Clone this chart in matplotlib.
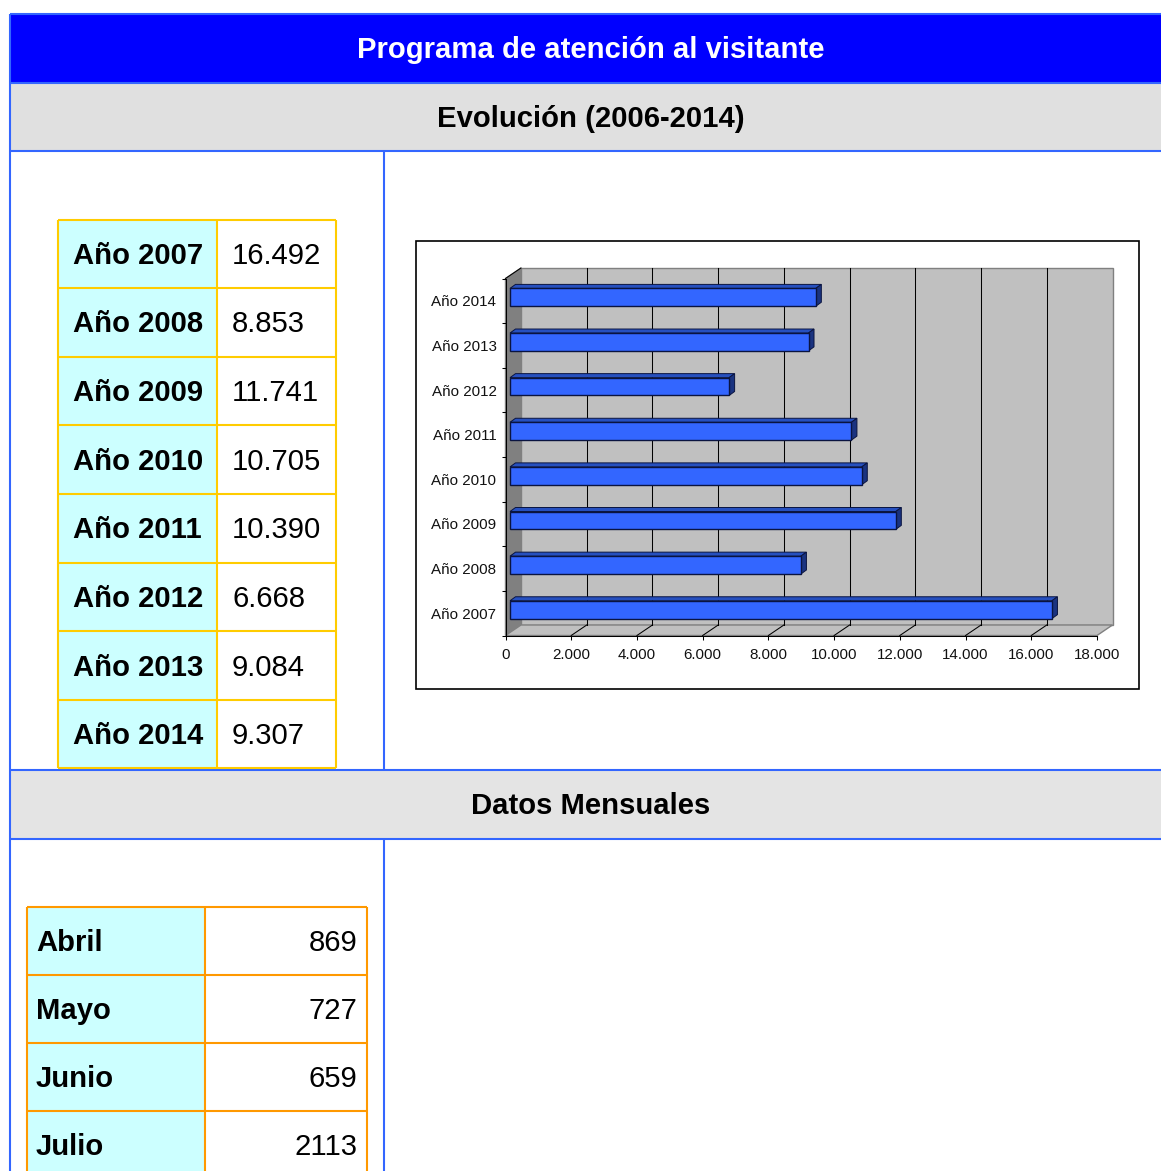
from matplotlib import pyplot as plt
from matplotlib.patches import Polygon, Rectangle

plt.rcParams['font.family'] = ['Liberation Sans', 'DejaVu Sans']

W, H = 1161, 1171

years = ['Año 2007', 'Año 2008', 'Año 2009', 'Año 2010', 'Año 2011', 'Año 2012', 'Año 2013', 'Año 2014']
visitors = [16492, 8853, 11741, 10705, 10390, 6668, 9084, 9307]
visitor_labels = ['16.492', '8.853', '11.741', '10.705', '10.390', '6.668', '9.084', '9.307']
x_ticks = [0, 2000, 4000, 6000, 8000, 10000, 12000, 14000, 16000, 18000]
x_tick_labels = ['0', '2.000', '4.000', '6.000', '8.000', '10.000', '12.000', '14.000', '16.000', '18.000']
months = ['Abril', 'Mayo', 'Junio', 'Julio']
month_values = ['869', '727', '659', '2113']

BLUE_LINE = '#3366ff'
YEAR_LINE = '#ffcc00'
MONTH_LINE = '#ff9900'
CYAN = '#ccffff'
GRAY_HEAD = '#e0e0e0'
TEXT_SIZE = 21.1


def hline(ax, y, x0=10, x1=W, color=BLUE_LINE, lw=1.5):
    ax.plot([x0, x1], [y, y], color=color, lw=lw, solid_capstyle='butt')


def vline(ax, x, y0, y1, color=BLUE_LINE, lw=1.5):
    ax.plot([x, x], [y0, y1], color=color, lw=lw, solid_capstyle='butt')


def draw_table(ax, rows, values, xs, ys, color, label_x, value_x, value_ha):
    ax.add_patch(Rectangle((xs[0], ys[0]), xs[1] - xs[0], ys[-1] - ys[0], fc=CYAN, ec='none'))
    for x in xs:
        vline(ax, x, ys[0], ys[-1], color=color)
    for y in ys:
        hline(ax, y, xs[0], xs[2], color=color)
    for i in range(len(rows)):
        ym = (ys[i] + ys[i + 1]) / 2
        ax.text(label_x, ym - 1, rows[i], fontsize=TEXT_SIZE, fontweight='bold', va='center_baseline', ha='left',
                color='black')
        ax.text(value_x, ym - 1, values[i], fontsize=TEXT_SIZE, va='center_baseline', ha=value_ha, color='black')


fig = plt.figure(figsize=(W / 100, H / 100), dpi=100, facecolor='white')

# page layout drawn in pixel coordinates
bg = fig.add_axes([0, 0, 1, 1])
bg.set_xlim(0, W)
bg.set_ylim(H, 0)
bg.axis('off')

bg.add_patch(Rectangle((10, 14), W - 10, 68, fc='#0000ff', ec='none'))
bg.add_patch(Rectangle((10, 83), W - 10, 68, fc=GRAY_HEAD, ec='none'))
bg.add_patch(Rectangle((10, 770), W - 10, 69, fc='#e4e4e4', ec='none'))
for y in [14, 83, 151, 770, 839]:
    hline(bg, y)
vline(bg, 10, 14, H)
vline(bg, 384, 151, 770)
vline(bg, 384, 839, H)

bg.text(591, 47, 'Programa de atención al visitante', fontsize=TEXT_SIZE, fontweight='bold', color='white',
        ha='center', va='center_baseline')
bg.text(591, 116, 'Evolución (2006-2014)', fontsize=TEXT_SIZE, fontweight='bold', color='black',
        ha='center', va='center_baseline')
bg.text(591, 803, 'Datos Mensuales', fontsize=TEXT_SIZE, fontweight='bold', color='black',
        ha='center', va='center_baseline')

draw_table(bg, years, visitor_labels, [58, 217, 336], [220, 288, 357, 425, 494, 563, 631, 700, 768],
           YEAR_LINE, 73, 232, 'left')
draw_table(bg, months, month_values, [27, 205, 367], [907, 975, 1043, 1111, 1179],
           MONTH_LINE, 36, 357.5, 'right')

# chart frame
bg.add_patch(Rectangle((415.7, 240.7), 723.5, 448.5, fc='white', ec='black', lw=1.2))

# chart axes sit on the front plane of the fake 3d box
left, right, top, bottom = 505.5, 1097, 278.5, 635.5
ax = fig.add_axes([left / W, 1 - bottom / H, (right - left) / W, (bottom - top) / H])
ax.patch.set_visible(False)
ax.set_xlim(0, 18000)
ax.set_ylim(-0.5, len(years) - 0.5)

px_x = 18000 / (right - left)
px_y = len(years) / (bottom - top)
depth_x = 15.5 * px_x
depth_y = 10.5 * px_y
y0, y1 = -0.5, len(years) - 0.5
xmax = 18000


def face(pts, fc, ec='#808080', lw=1.0, z=1):
    ax.add_patch(Polygon(pts, closed=True, fc=fc, ec=ec, lw=lw, clip_on=False, zorder=z))


# walls
face([(0, y0), (depth_x, y0 + depth_y), (depth_x, y1 + depth_y), (0, y1)], '#808080', z=1)
face([(depth_x, y0 + depth_y), (xmax + depth_x, y0 + depth_y), (xmax + depth_x, y1 + depth_y),
      (depth_x, y1 + depth_y)], '#c0c0c0', z=1)
face([(0, y0), (xmax, y0), (xmax + depth_x, y0 + depth_y), (depth_x, y0 + depth_y)], '#c0c0c0', z=1)

# gridlines on back wall and floor
for t in x_ticks[1:-1]:
    ax.plot([t + depth_x, t + depth_x], [y0 + depth_y, y1 + depth_y], color='black', lw=0.75, clip_on=False, zorder=2)
    ax.plot([t, t + depth_x], [y0, y0 + depth_y], color='black', lw=0.75, clip_on=False, zorder=2)
ax.plot([0, depth_x], [y1, y1 + depth_y], color='black', lw=0.75, clip_on=False, zorder=2)

# bars, each one a front, top and side face
bar_dx = 4.5 * px_x
bar_dy = 3.5 * px_y
bar_h = 0.2
side_x = 5.5 * px_x
side_y = 4 * px_y
for i, v in enumerate(visitors):
    xa, xb = bar_dx, v + bar_dx
    ya, yb = i + bar_dy - bar_h, i + bar_dy + bar_h
    face([(xa, yb), (xb, yb), (xb + side_x, yb + side_y), (xa + side_x, yb + side_y)], '#2650bf', ec='#0a1440', lw=0.7, z=3)
    face([(xb, ya), (xb + side_x, ya + side_y), (xb + side_x, yb + side_y), (xb, yb)], '#1a3380', ec='#0a1440', lw=0.7, z=3)
    face([(xa, ya), (xb, ya), (xb, yb), (xa, yb)], '#3366ff', ec='#0a1440', lw=1.0, z=4)

for name in ['top', 'right']:
    ax.spines[name].set_visible(False)
for name in ['left', 'bottom']:
    ax.spines[name].set_linewidth(0.75)
    ax.spines[name].set_zorder(5)

ax.set_xticks(x_ticks)
ax.set_xticklabels(x_tick_labels, fontsize=10.9, color='#111111')
ax.set_yticks(range(len(years)))
ax.set_yticklabels(years, fontsize=10.9, color='#111111')
ax.set_yticks([i - 0.5 for i in range(len(years) + 1)], minor=True)
ax.tick_params(axis='x', length=3, width=0.75, pad=6)
ax.tick_params(axis='y', which='major', length=0, pad=6.5)
ax.tick_params(axis='y', which='minor', length=3, width=0.75)

fig.savefig('out.png', dpi=100)
